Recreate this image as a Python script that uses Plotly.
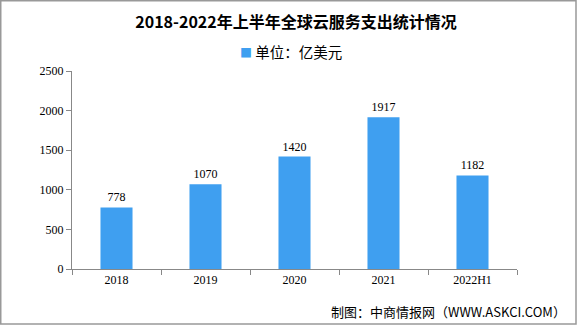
import plotly.graph_objects as go

categories = ["2018", "2019", "2020", "2021", "2022H1"]
values = [778, 1070, 1420, 1917, 1182]
series_name = "单位：亿美元"
title = "2018-2022年上半年全球云服务支出统计情况"
source = "制图：中商情报网（WWW.ASKCI.COM）"
bar_color = "#3F9FF0"

W, H = 585, 327
L, R, T, B = 72, 68, 71, 58
PW, PH = W - L - R, H - T - B

fig = go.Figure()
fig.add_trace(go.Bar(
    x=categories, y=values, name=series_name,
    marker=dict(color=bar_color, line=dict(width=0)),
    text=[str(v) for v in values], textposition="outside",
    textfont=dict(size=12, color="#000000", family="Liberation Serif, DejaVu Serif, serif"),
    cliponaxis=False, showlegend=False,
))

fig.update_layout(
    width=W, height=H,
    margin=dict(l=L, r=R, t=T, b=B),
    paper_bgcolor="white", plot_bgcolor="white",
    bargap=0.64,
    title=dict(text="<b>" + title + "</b>", x=296 / W, xanchor="center", y=1 - 22 / H, yanchor="middle",
               font=dict(size=16, color="#000000", family="Noto Sans CJK SC")),
    xaxis=dict(type="category", showline=True, linecolor="#888888", linewidth=1,
               ticks="outside", tickson="boundaries", ticklen=5, tickcolor="#888888",
               showgrid=False, tickfont=dict(size=12, color="#000000", family="Liberation Serif, DejaVu Serif, serif")),
    yaxis=dict(range=[0, 2500], tickvals=[0, 500, 1000, 1500, 2000, 2500], showline=True,
               linecolor="#888888", linewidth=1, ticks="outside", ticklen=5, tickcolor="#888888",
               showgrid=False, zeroline=False,
               tickfont=dict(size=12, color="#000000", family="Liberation Serif, DejaVu Serif, serif")),
    font=dict(family="Noto Sans CJK SC"),
)

# legend-like key
fig.add_annotation(text='<span style="color:%s;font-size:12px">■</span> %s' % (bar_color, series_name),
                   xref="paper", yref="paper",
                   x=(238 - L) / PW, xanchor="left",
                   y=1 + (T - 52) / PH, yanchor="middle",
                   showarrow=False, font=dict(size=14.5, color="#000000", family="Noto Sans CJK SC"))

fig.add_annotation(text=source, xref="paper", yref="paper",
                   x=1 + (568 - (W - R)) / PW, xanchor="right",
                   y=-(311 - (H - B)) / PH, yanchor="middle",
                   showarrow=False, font=dict(size=13, color="#000000", family="Noto Sans CJK SC"))

# outer frame
fig.add_shape(type="rect", xref="paper", yref="paper",
              x0=-(L - 0.75) / PW, x1=1 + (576 - (W - R)) / PW,
              y0=-(324 - (H - B)) / PH, y1=1 + (T - 0.75) / PH,
              line=dict(color="#999999", width=1.5), layer="below")

fig.write_html("out.html")
